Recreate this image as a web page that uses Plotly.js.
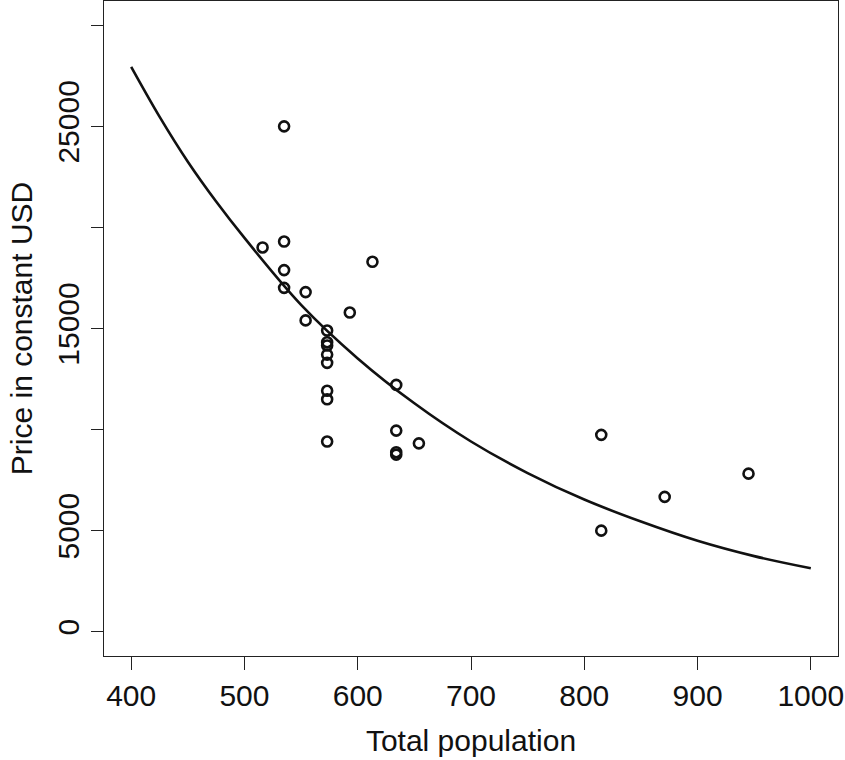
<!DOCTYPE html>
<html>
<head>
<meta charset="utf-8">
<script src="https://cdn.plot.ly/plotly-3.0.1.min.js"></script>
<style>html,body{margin:0;padding:0;background:#fff;}#chart{width:845px;height:760px;}</style>
</head>
<body>
<div id="chart"></div>
<script>
// Observed points: total population vs price in constant USD
const popX = [535, 516, 535, 535, 535, 554, 554, 573, 573, 573, 573, 573, 573, 573, 573,
              593, 613, 634, 634, 634, 634, 654, 815, 815, 871, 945];
const priceY = [25000, 19010, 19300, 17890, 17010, 16800, 15400, 14900, 14320, 14160, 13710, 13300, 11920, 11500, 9410,
                15790, 18300, 12210, 9950, 8880, 8760, 9320, 9740, 5000, 6670, 7820];

// Fitted curve
const curveX = [400, 425, 450, 475, 500, 550, 600, 650, 700, 750, 800, 850, 900, 950, 1000];
const curveY = [27940, 25480, 23250, 21280, 19480, 16170, 13520, 11300, 9410, 7850, 6540, 5450, 4500, 3740, 3140];

const yTickVals = [0, 5000, 10000, 15000, 20000, 25000, 30000];
const yTickText = ['0', '5000', '', '15000', '', '25000', ''];
const xTickVals = [400, 500, 600, 700, 800, 900, 1000];

const FONT = 'Liberation Sans, Arial, Helvetica, sans-serif';

const traces = [
  {
    x: curveX, y: curveY, type: 'scatter', mode: 'lines',
    line: {color: '#111', width: 2.6, shape: 'spline', smoothing: 1},
    hoverinfo: 'skip', showlegend: false
  },
  {
    x: popX, y: priceY, type: 'scatter', mode: 'markers',
    marker: {symbol: 'circle-open', size: 10, color: '#111', line: {color: '#111', width: 2.6}},
    showlegend: false
  }
];

const layout = {
  width: 845, height: 760,
  margin: {l: 104, r: 7, t: 1, b: 104, pad: 0},
  paper_bgcolor: '#fff', plot_bgcolor: '#fff',
  font: {family: FONT, color: '#111', size: 30},
  showlegend: false,
  xaxis: {
    range: [376, 1024], tickvals: xTickVals, ticktext: xTickVals.map(String),
    ticks: 'outside', ticklen: 13, tickwidth: 1, tickcolor: '#222',
    showline: true, mirror: true, linecolor: '#222', linewidth: 1.2,
    showgrid: false, zeroline: false,
    tickfont: {family: FONT, size: 30, color: '#111'},
    title: {text: 'Total population', font: {family: FONT, size: 30, color: '#111'}, standoff: 18}
  },
  yaxis: {
    range: [-1200, 31200], tickvals: yTickVals, ticktext: yTickText,
    ticks: 'outside', ticklen: 12, tickwidth: 1, tickcolor: '#222',
    tickangle: -90,
    showline: true, mirror: true, linecolor: '#222', linewidth: 1.2,
    showgrid: false, zeroline: false,
    tickfont: {family: FONT, size: 30, color: '#111'},
    title: {text: 'Price in constant USD', font: {family: FONT, size: 30, color: '#111'}, standoff: 10}
  }
};

Plotly.newPlot('chart', traces, layout, {displayModeBar: false, staticPlot: true});
</script>
</body>
</html>
